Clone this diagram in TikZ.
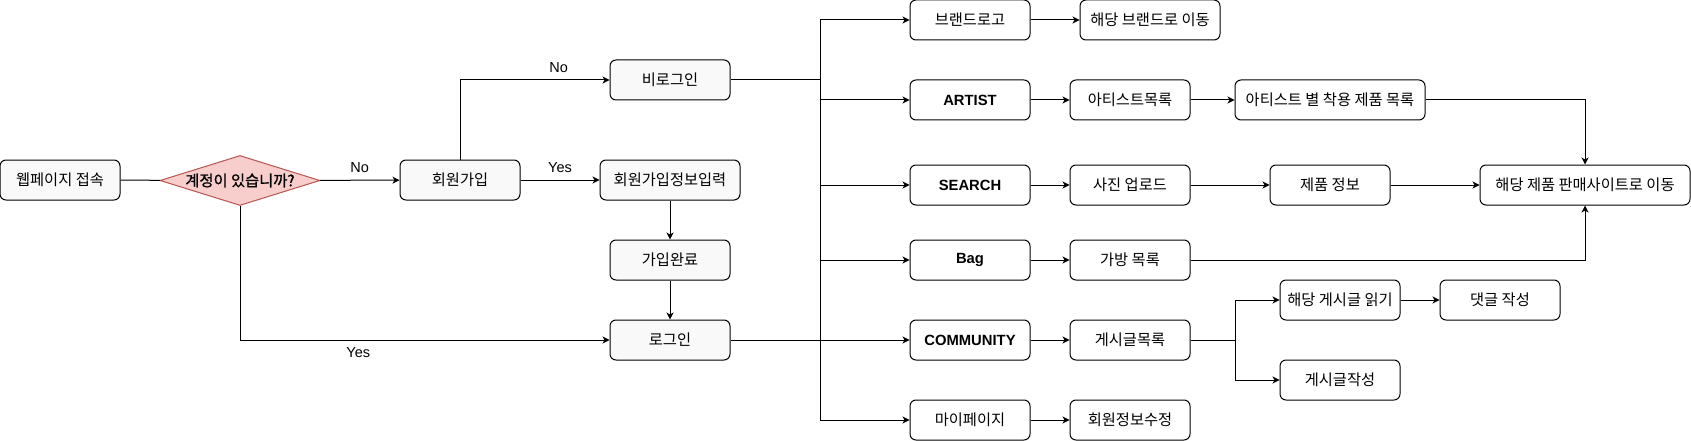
\documentclass[tikz,border=0pt]{standalone}
\usepackage{fontspec}
\setmainfont{Liberation Sans}
\newfontfamily\kr{Noto Sans CJK KR}
\newfontfamily\krb[FakeBold=1.2]{Noto Sans CJK KR}
\usepackage{tikz}
\usetikzlibrary{arrows.meta}
\usetikzlibrary{shapes.geometric}
\definecolor{lightfill}{HTML}{F9F9F9}
\definecolor{askfill}{HTML}{F8CECC}
\definecolor{askdraw}{HTML}{B85450}
\newcommand{\defaultblockwidth}{120pt}
\newcommand{\blockwidth}{\defaultblockwidth}
\tikzstyle{block}=[draw, rounded corners=6pt, inner sep=0, minimum width=\blockwidth, minimum height=40pt,
                   font=\kr\fontsize{15.3}{18}\selectfont]
\tikzstyle{gblock}=[block, fill=lightfill]
\tikzstyle{wblock}=[block, fill=white]
\tikzstyle{ablock}=[wblock, font=\bfseries\fontsize{14.8}{17}\selectfont]
\tikzstyle{dblock}=[diamond, draw=askdraw, fill=askfill, inner sep=0, minimum width=160pt, minimum height=50pt,
                    font=\krb\fontsize{15.3}{18}\selectfont]
\tikzstyle{lbl}=[inner sep=0, font=\fontsize{14.5}{17}\selectfont]
\tikzstyle{flowchart}=[x=1pt, y=-1pt, line width=1pt,
                       % Classic arrow heads.
                       >={Stealth[length=7pt, width=7pt, inset=2pt]}]
\begin{document}
\begin{tikzpicture}[flowchart]
    \useasboundingbox (0,0) rectangle (1691,441);
    \node[gblock]                          (start) at (60,180) {웹페이지 접속};
    \node[dblock]                          (ask) at (240,180.5) {\makebox[0pt]{계정이 있습니까?}};
    \node[gblock]                          (join) at (460,180) {회원가입};
    \node[gblock]                          (guest) at (670,80) {비로그인};
    \node[gblock, minimum width=140pt]     (info) at (670,180) {회원가입정보입력};
    \node[gblock]                          (done) at (670,260) {가입완료};
    \node[gblock]                          (login) at (670,340) {로그인};
    \draw (start) -- (ask);
    \draw[->] (ask) -- node[lbl, above=7pt] {No} (join);
    \draw[->] (join) |- node[lbl, above=7pt, pos=0.83] {No} (guest);
    \draw[->] (join) -- node[lbl, above=7pt] {Yes} (info);
    \draw[->] (info) -- (done);
    \draw[->] (done) -- (login);
    \draw[->] (ask) |- node[lbl, below=7pt, pos=0.66] {Yes} (login);
    % Menu.
    \node[wblock]                          (brand) at (970,20) {브랜드로고};
    \node[ablock]                          (artist) at (970,100) {ARTIST};
    \node[ablock]                          (search) at (970,185) {SEARCH};
    \node[ablock]                          (bag) at (970,260) {Bag};
    \node[ablock]                          (community) at (970,340) {COMMUNITY};
    \node[wblock]                          (mypage) at (970,420) {마이페이지};
    \coordinate (bus) at (820,0);
    \draw (guest) -- (bus |- guest);
    \draw (bus |- brand) -- (bus |- mypage);
    \foreach \n in {brand, artist, search, bag, mypage}
        \draw[->] (bus |- \n) -- (\n);
    \draw[->] (login) -- (community);
    % Pages behind the menu.
    \node[wblock, minimum width=140pt]     (brandgo) at (1150,20) {해당 브랜드로 이동};
    \node[wblock]                          (artlist) at (1130,100) {아티스트목록};
    \node[wblock]                          (photo) at (1130,185) {사진 업로드};
    \node[wblock]                          (baglist) at (1130,260) {가방 목록};
    \node[wblock]                          (postlist) at (1130,340) {게시글목록};
    \node[wblock]                          (editinfo) at (1130,420) {회원정보수정};
    \node[wblock, minimum width=190pt]     (artwear) at (1330,100) {아티스트 별 착용 제품 목록};
    \node[wblock]                          (product) at (1330,185) {제품 정보};
    \node[wblock, minimum width=210pt]     (shop) at (1585,185) {해당 제품 판매사이트로 이동};
    \node[wblock]                          (read) at (1340,300) {해당 게시글 읽기};
    \node[wblock]                          (reply) at (1500,300) {댓글 작성};
    \node[wblock]                          (write) at (1340,380) {게시글작성};
    \draw[->] (brand) -- (brandgo);
    \draw[->] (artist) -- (artlist);
    \draw[->] (search) -- (photo);
    \draw[->] (bag) -- (baglist);
    \draw[->] (community) -- (postlist);
    \draw[->] (mypage) -- (editinfo);
    \draw[->] (artlist) -- (artwear);
    \draw[->] (photo) -- (product);
    \draw[->] (product) -- (shop);
    \draw[->] (artwear) -| (shop);
    \draw[->] (baglist) -| (shop);
    \coordinate (fork) at (1235,340);
    \draw[->] (postlist) -- (fork) |- (read);
    \draw[->] (fork) |- (write);
    \draw[->] (read) -- (reply);
\end{tikzpicture}
\end{document}
